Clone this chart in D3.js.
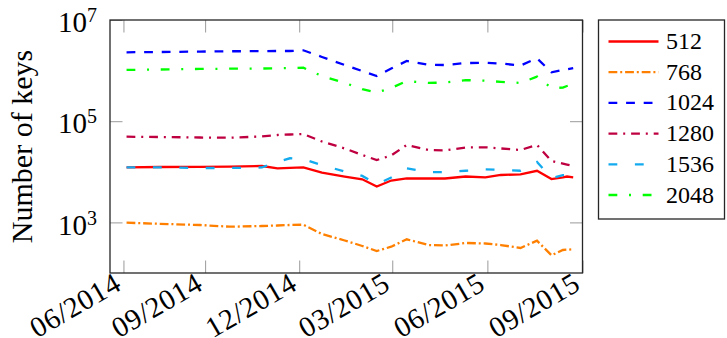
<!DOCTYPE html>
<html>
<head>
<meta charset="utf-8">
<script src="https://cdn.jsdelivr.net/npm/d3@7.9.0/dist/d3.min.js"></script>
<style>
  body { margin: 0; background: #fff; }
  svg { display: block; }
  svg text { font-family: "Liberation Serif", "DejaVu Serif", serif !important; fill: #000; }
</style>
</head>
<body>
<div id="chart"></div>
<script>
// sample dates of the measurements
const dates = [
  '2014-06-17', '2014-07-19', '2014-08-27', '2014-09-25', '2014-10-26', '2014-11-10',
  '2014-11-22', '2014-12-05', '2014-12-23', '2015-01-14', '2015-01-31', '2015-02-14',
  '2015-02-28', '2015-03-15', '2015-04-05', '2015-04-21', '2015-05-11', '2015-05-30',
  '2015-06-14', '2015-07-03', '2015-07-19', '2015-08-02', '2015-08-13', '2015-08-17',
  '2015-08-23'
];

const keys512 = [12270, 12440, 12550, 12610, 13020, 11720, 11990, 12270, 9600, 8070, 7110, 5120,
  6730, 7440, 7370, 7370, 8070, 7780, 8650, 8930, 10470, 7200, 7780, 8070, 7780];
const keys768 = [986, 938, 889, 822, 849, 868, 889, 901, 590, 439, 342, 272,
  331, 463, 357, 349, 392, 383, 357, 312, 435, 224, 285, 289, 294];
const keys1024 = [2.30e6, 2.33e6, 2.38e6, 2.41e6, 2.42e6, 2.44e6, 2.44e6, 2.52e6, 1.86e6, 1.29e6, 9.8e5, 7.8e5,
  1.10e6, 1.55e6, 1.31e6, 1.29e6, 1.41e6, 1.43e6, 1.38e6, 1.26e6, 1.75e6, 9.25e5, 1.03e6, 1.06e6, 1.12e6];
const keys1280 = [4.94e4, 4.87e4, 4.76e4, 4.72e4, 4.99e4, 5.34e4, 5.46e4, 5.58e4, 3.97e4, 2.89e4, 2.15e4, 1.71e4,
  2.10e4, 3.39e4, 2.70e4, 2.64e4, 3.02e4, 3.05e4, 2.89e4, 2.70e4, 3.39e4, 1.63e4, 1.45e4, 1.39e4, 1.30e4];
const keys1536 = [12200, 12200, 11900, 11900, 12200, 15600, 18500, 17700, 13600, 10100, 8300, 5700,
  7700, 11700, 9800, 9900, 10500, 11200, 11000, 10500, 15600, 7500, 8600, 8600, 8300];
const keys2048 = [1.03e6, 1.05e6, 1.08e6, 1.09e6, 1.10e6, 1.11e6, 1.12e6, 1.14e6, 7.8e5, 5.7e5, 4.3e5, 3.69e5,
  4.53e5, 6.2e5, 5.7e5, 5.8e5, 6.5e5, 6.3e5, 6.0e5, 5.7e5, 7.6e5, 4.53e5, 4.6e5, 4.97e5, 5.4e5];

const seriesNames = ['512', '768', '1024', '1280', '1536', '2048'];
const seriesValues = [keys512, keys768, keys1024, keys1280, keys1536, keys2048];

const xTickDates = ['2014-06-14', '2014-09-01', '2014-12-01', '2015-03-01', '2015-06-01', '2015-09-01'];
const xTickLabels = ['06/2014', '09/2014', '12/2014', '03/2015', '06/2015', '09/2015'];
const yTickValues = [1e3, 1e5, 1e7];
const yTickExponents = ['3', '5', '7'];

// pgf-like line styles (1pt ~ 2.93px here)
const styles = [
  { color: '#ff0000', dash: null },
  { color: '#ff8000', dash: '8.8 2.9 2 2.9' },
  { color: '#0000ff', dash: '8.8 8.8' },
  { color: '#bf0040', dash: '8.8 5.9 2 5.9' },
  { color: '#13aaee', dash: '8.8 17.6' },
  { color: '#00ff00', dash: '8.8 11.7 2 11.7' }
];

const FONT = '"Liberation Serif", "DejaVu Serif", serif';

const width = 727;
const height = 338;
const plot = { left: 110, right: 582.5, top: 20, bottom: 273 };
const tickLen = 12.5;

const parse = d3.timeParse('%Y-%m-%d');
const xDates = dates.map(parse);

const svg = d3.select('#chart')
  .append('svg')
  .attr('width', width)
  .attr('height', height)
  .attr('font-family', FONT);

const xScale = d3.scaleTime()
  .domain([parse('2014-06-01'), parse('2015-09-01')])
  .range([plot.left, plot.right]);

const yScale = d3.scaleLog()
  .domain([100, 1e7])
  .range([plot.bottom, plot.top]);

// series
const line = d3.line()
  .x((d) => xScale(d[0]))
  .y((d) => yScale(d[1]));

const lines = svg.append('g').attr('class', 'lines');
seriesValues.forEach((vals, i) => {
  lines.append('path')
    .datum(vals.map((v, j) => [xDates[j], v]))
    .attr('fill', 'none')
    .attr('stroke', styles[i].color)
    .attr('stroke-width', 2.3)
    .attr('stroke-dasharray', styles[i].dash)
    .attr('d', line);
});

// ticks (inside, mirrored)
const tickColor = '#9a9a9a';
function styleTicks(g) {
  g.attr('font-family', FONT);
  g.select('.domain').remove();
  g.selectAll('.tick line').attr('stroke', tickColor).attr('stroke-width', 1);
}

const xTicks = xTickDates.map(parse);

const xAxis = svg.append('g')
  .attr('transform', `translate(0, ${plot.bottom})`)
  .call(d3.axisBottom(xScale).tickValues(xTicks).tickSize(-tickLen).tickSizeOuter(0)
    .tickFormat((d, i) => xTickLabels[i]))
  .call(styleTicks);

xAxis.selectAll('.tick text')
  .attr('y', 0)
  .attr('dy', '0.35em')
  .attr('font-size', 29)
  .attr('letter-spacing', 0.6)
  .attr('text-anchor', 'end')
  .attr('transform', 'translate(-6, 7) rotate(-30)');

svg.append('g')
  .attr('transform', `translate(0, ${plot.top})`)
  .call(d3.axisTop(xScale).tickValues(xTicks).tickSize(-tickLen).tickFormat(''))
  .call(styleTicks);

const yAxis = svg.append('g')
  .attr('transform', `translate(${plot.left}, 0)`)
  .call(d3.axisLeft(yScale).tickValues(yTickValues).tickSize(-tickLen).tickFormat(''))
  .call(styleTicks);

yAxis.selectAll('.tick').each(function (d, i) {
  const t = d3.select(this).append('text')
    .attr('x', -13)
    .attr('y', 11.7)
    .attr('text-anchor', 'end')
    .attr('font-size', 29);
  t.append('tspan').text('10');
  t.append('tspan')
    .attr('font-size', 20)
    .attr('dy', -10)
    .text(yTickExponents[i]);
});

svg.append('g')
  .attr('transform', `translate(${plot.right}, 0)`)
  .call(d3.axisRight(yScale).tickValues(yTickValues).tickSize(-tickLen).tickFormat(''))
  .call(styleTicks);

// frame
svg.append('rect')
  .attr('x', plot.left)
  .attr('y', plot.top)
  .attr('width', plot.right - plot.left)
  .attr('height', plot.bottom - plot.top)
  .attr('fill', 'none')
  .attr('stroke', '#262626')
  .attr('stroke-width', 1.3);

// y label
svg.append('text')
  .attr('transform', `translate(32, ${(plot.top + plot.bottom) / 2}) rotate(-90)`)
  .attr('text-anchor', 'middle')
  .attr('font-size', 30)
  .text('Number of keys');

// legend
const legend = svg.append('g').attr('class', 'legend');
legend.append('rect')
  .attr('x', 598.5)
  .attr('y', 20)
  .attr('width', 126)
  .attr('height', 199)
  .attr('fill', '#fff')
  .attr('stroke', '#262626')
  .attr('stroke-width', 1.3);

seriesNames.forEach((name, i) => {
  const y = 41.5 + i * 30.7;
  legend.append('line')
    .attr('x1', 608.5)
    .attr('x2', 658.5)
    .attr('y1', y)
    .attr('y2', y)
    .attr('stroke', styles[i].color)
    .attr('stroke-width', 2.3)
    .attr('stroke-dasharray', styles[i].dash);
  legend.append('text')
    .attr('x', 666)
    .attr('y', y + 7.5)
    .attr('font-size', 24)
    .text(name);
});
</script>
</body>
</html>
